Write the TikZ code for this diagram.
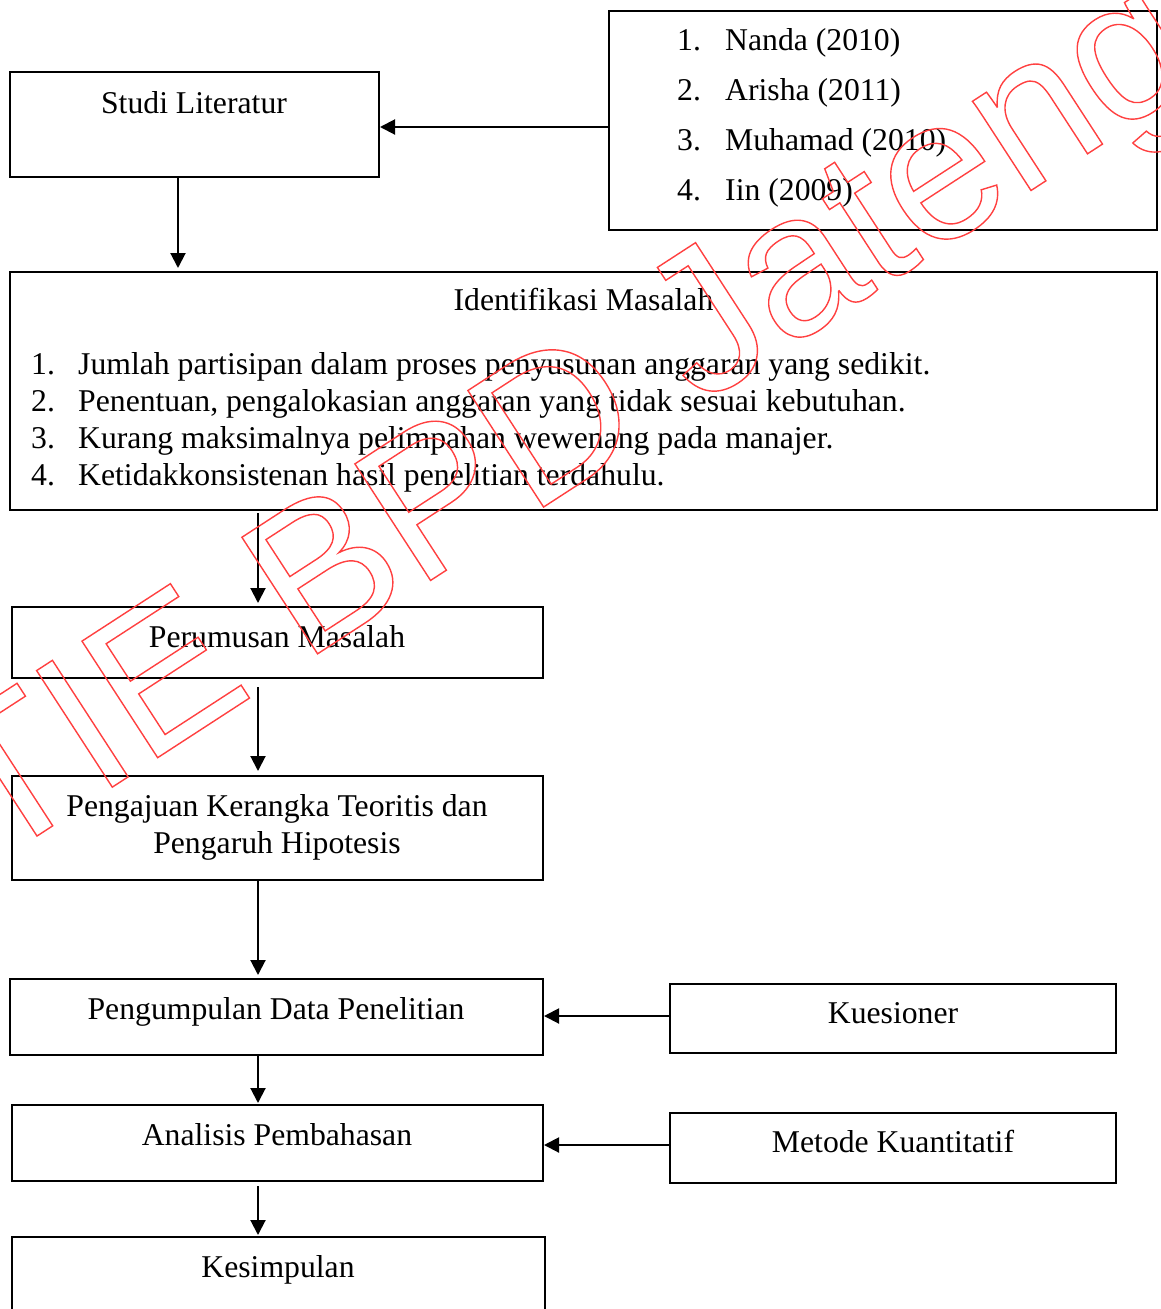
\documentclass[tikz,border=0pt]{standalone}
\usepackage{fontspec}
\setmainfont{Liberation Serif}
\newfontfamily\wmfont{Liberation Sans}
\usetikzlibrary{arrows.meta}
\tikzset{
  box/.style={draw=black, line width=2pt, rectangle, inner sep=0pt, fill=none},
  lbl/.style={anchor=base, inner sep=0pt, font=\fontsize{31.7}{36}\selectfont},
  lblw/.style={anchor=base west, inner sep=0pt, font=\fontsize{31.7}{36}\selectfont},
  arr/.style={line width=2pt, -{Triangle[length=15pt,width=15pt]}},
}
\begin{document}
\begin{tikzpicture}[x=1pt,y=-1pt]
\useasboundingbox (0,0) rectangle (1161,1309);
\clip (0,0) rectangle (1161,1309);
% boxes
\node[box, minimum width=369pt, minimum height=105pt] (studi) at (194.5,124.5) {};
\node[box, minimum width=548pt, minimum height=219pt] (lit) at (883,120.5) {};
\node[box, minimum width=1147pt, minimum height=238pt] (ident) at (583.5,391) {};
\node[box, minimum width=531pt, minimum height=71pt] (perum) at (277.5,642.5) {};
\node[box, minimum width=531pt, minimum height=104pt] (ajuan) at (277.5,828) {};
\node[box, minimum width=533pt, minimum height=76pt] (kumpul) at (276.5,1017) {};
\node[box, minimum width=446pt, minimum height=69pt] (kues) at (893,1018.5) {};
\node[box, minimum width=531pt, minimum height=76pt] (anal) at (277.5,1143) {};
\node[box, minimum width=446pt, minimum height=70pt] (metode) at (893,1148) {};
\node[box, minimum width=533pt, minimum height=100pt] (simpul) at (278.5,1287) {};
% texts
\node[lbl] (tstudi) at (194,113) {Studi Literatur};
\node[lblw] (n1) at (677,50) {1.};
\node[lblw] (r1) at (725,50) {Nanda (2010)};
\node[lblw] (n2) at (677,100) {2.};
\node[lblw] (r2) at (725,100) {Arisha (2011)};
\node[lblw] (n3) at (677,150) {3.};
\node[lblw] (r3) at (725,150) {Muhamad (2010)};
\node[lblw] (n4) at (677,200) {4.};
\node[lblw] (r4) at (725,200) {Iin (2009)};
\node[lbl] (tident) at (583.5,310) {Identifikasi Masalah};
\node[lblw] (m1) at (31,374) {1.};
\node[lblw] (i1) at (78,374) {Jumlah partisipan dalam proses penyusunan anggaran yang sedikit.};
\node[lblw] (m2) at (31,411) {2.};
\node[lblw] (i2) at (78,411) {Penentuan, pengalokasian anggaran yang tidak sesuai kebutuhan.};
\node[lblw] (m3) at (31,448) {3.};
\node[lblw] (i3) at (78,448) {Kurang maksimalnya pelimpahan wewenang pada manajer.};
\node[lblw] (m4) at (31,485) {4.};
\node[lblw] (i4) at (78,485) {Ketidakkonsistenan hasil penelitian terdahulu.};
\node[lbl] (tperum) at (277,647) {Perumusan Masalah};
\node[lbl] (tajuan1) at (277,816) {Pengajuan Kerangka Teoritis dan};
\node[lbl] (tajuan2) at (277,853) {Pengaruh Hipotesis};
\node[lbl] (tkumpul) at (276,1019) {Pengumpulan Data Penelitian};
\node[lbl] (tkues) at (893,1023) {Kuesioner};
\node[lbl] (tanal) at (277,1145) {Analisis Pembahasan};
\node[lbl] (tmetode) at (893,1152) {Metode Kuantitatif};
\node[lbl] (tsimpul) at (278,1277) {Kesimpulan};
% connectors
\coordinate (ya) at (0,127);
\coordinate (xa) at (178,0);
\coordinate (xb) at (258,0);
\coordinate (yk) at (0,1016);
\coordinate (ym) at (0,1145);
\draw[arr] (lit.west|-ya) -- (studi.east|-ya);
\draw[arr, shorten >=3pt] (studi.south-|xa) -- (ident.north-|xa);
\draw[arr, shorten <=2pt, shorten >=3pt] (ident.south-|xb) -- (perum.north-|xb);
\draw[arr, shorten <=8pt, shorten >=4pt] (perum.south-|xb) -- (ajuan.north-|xb);
\draw[arr, shorten >=3pt] (ajuan.south-|xb) -- (kumpul.north-|xb);
\draw[arr, shorten >=1pt] (kumpul.south-|xb) -- (anal.north-|xb);
\draw[arr, shorten <=4pt, shorten >=1pt] (anal.south-|xb) -- (simpul.north-|xb);
\draw[arr] (kues.west|-yk) -- (kumpul.east|-yk);
\draw[arr] (metode.west|-ym) -- (anal.east|-ym);
% watermark
\node[rotate=33, anchor=base west, inner sep=0pt, text=red!75, font=\wmfont\fontsize{202}{240}\selectfont] (wm) at (-120,938)
  {\special{pdf:literal direct 1 Tr 1.4 w}STIE BPD Jateng\special{pdf:literal direct 0 Tr}};
\end{tikzpicture}
\end{document}
